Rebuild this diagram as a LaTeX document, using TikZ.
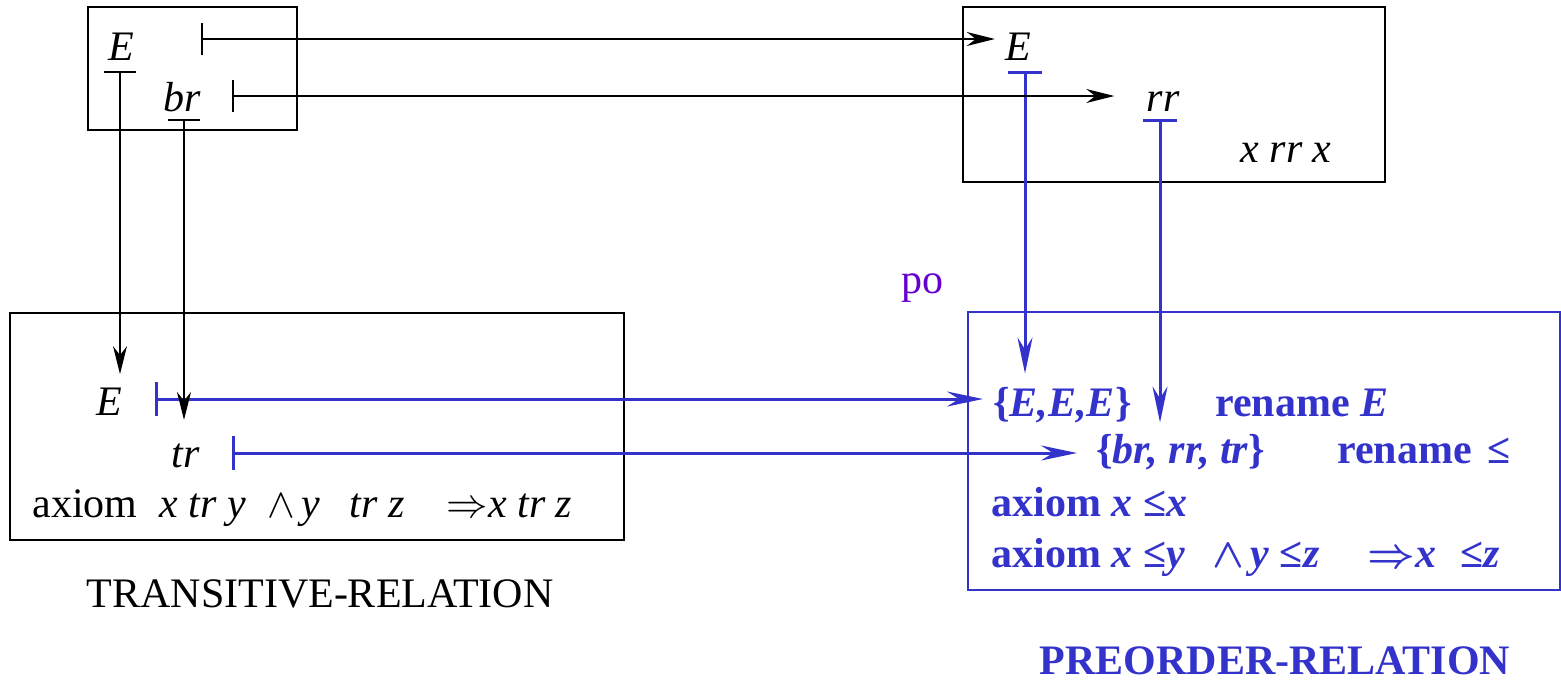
\documentclass[tikz,border=0pt]{standalone}
\usepackage{fontspec}
\setmainfont{Liberation Serif}
\usetikzlibrary{arrows.meta, positioning}
\definecolor{figblue}{RGB}{51,51,204}
\definecolor{figpurple}{RGB}{102,0,204}

\begin{document}
\begin{tikzpicture}[
  x=0.5pt, y=-0.5pt,
  txt/.style={inner sep=0pt, font=\fontsize{21}{25}\selectfont},
  itxt/.style={inner sep=0pt, font=\fontsize{21}{25}\selectfont\itshape},
  btxt/.style={inner sep=0pt, text=figblue, font=\fontsize{21}{25}\selectfont\bfseries\boldmath},
  frame/.style={draw, line width=1pt},
  bframe/.style={draw=figblue, line width=1pt},
  map/.style={line width=0.75pt, {Bar[width=16pt]}-{Stealth[length=14pt, width=7pt, inset=4.5pt]}},
  bmap/.style={draw=figblue, line width=1.5pt, {Bar[width=17pt]}-{Stealth[length=18pt, width=7.5pt, inset=6pt]}}
]
  \useasboundingbox (0,0) rectangle (1561,681);

  % the four boxes
  \draw[frame] (88,7) rectangle (297,130);
  \draw[frame] (963,7) rectangle (1385,182);
  \draw[frame] (10,313) rectangle (624,540);
  \draw[bframe] (968,312) rectangle (1560,590);

  % source signature
  \node[itxt, anchor=base] (srcE) at (121,60) {E};
  \node[itxt, anchor=base] (srcbr) at (182,111) {br};

  % target signature
  \node[itxt, anchor=base] (tgtE) at (1018,60) {E};
  \node[itxt, anchor=base] (tgtrr) at (1163,111) {rr};
  \node[itxt, anchor=base] (tgtax) at (1286,162) {x rr x};

  \node[txt, anchor=base, text=figpurple] (po) at (922,293) {po};

  % TRANSITIVE-RELATION
  \node[itxt, anchor=base] (trE) at (109,415) {E};
  \node[itxt, anchor=base] (trtr) at (186,467) {tr};
  \node[txt, anchor=base west] (trax) at (32,517)
    {axiom\hspace{11pt}\textit{x tr y}\hspace{11pt}$\wedge$\hspace{3pt}\textit{y}\hspace{15pt}\textit{tr z}\hspace{21pt}$\Rightarrow$\textit{x tr z}};
  \node[txt, anchor=base] (trname) at (320,607) {TRANSITIVE-RELATION};

  % PREORDER-RELATION
  \node[btxt, anchor=base west] (braceE) at (993,416) {\{\textit{E,E,E}\}};
  \node[btxt, anchor=base west] (renE) at (1215,416) {rename \textit{E}};
  \node[btxt, anchor=base west] (bracebr) at (1096,463) {\{\textit{br, rr, tr}\}};
  \node[btxt, anchor=base west] (renle) at (1337,463) {rename\hspace{8pt}≤};
  \node[btxt, anchor=base west] (refl) at (991,516) {axiom \textit{x} ≤\textit{x}};
  \node[btxt, anchor=base west] (trans) at (991,567)
    {axiom \textit{x} ≤\textit{y}\hspace{14pt}$\wedge$\hspace{3pt}\textit{y} ≤\textit{z}\hspace{24pt}$\Rightarrow$\textit{x}\hspace{12pt}≤\textit{z}};
  \node[btxt, anchor=base] (poname) at (1275,674) {PREORDER-RELATION};

  % where the maps start
  \coordinate (srcEbar) at (120,71);
  \coordinate (srcbrbar) at (184,119);
  \coordinate (srcEtick) at (201,39);
  \coordinate (srcbrtick) at (232,96);
  \coordinate (tgtEbar) at (1025,71);
  \coordinate (tgtrrbar) at (1160,119);
  \coordinate (trEtick) at (155,399);
  \coordinate (trtrtick) at (232,453);

  % blue maps
  \draw[bmap, shorten >=5pt] (trEtick) -- (trEtick -| braceE.west);
  \draw[bmap, shorten >=9.5pt] (trtrtick) -- (trtrtick -| bracebr.west);
  \draw[bmap, shorten >=6.5pt] (tgtEbar) -- (tgtEbar |- braceE.north);
  \draw[bmap, shorten >=5.5pt] (tgtrrbar) -- (tgtrrbar |- bracebr.north);

  % black maps
  \draw[map, shorten >=5pt] (srcEtick) -- (srcEtick -| tgtE.west);
  \draw[map, shorten >=16pt] (srcbrtick) -- (srcbrtick -| tgtrr.west);
  \draw[map, shorten >=6.5pt] (srcEbar) -- (srcEbar |- trE.north);
  \draw[map, shorten >=11.5pt] (srcbrbar) -- (srcbrbar |- trtr.north);
\end{tikzpicture}
\end{document}
